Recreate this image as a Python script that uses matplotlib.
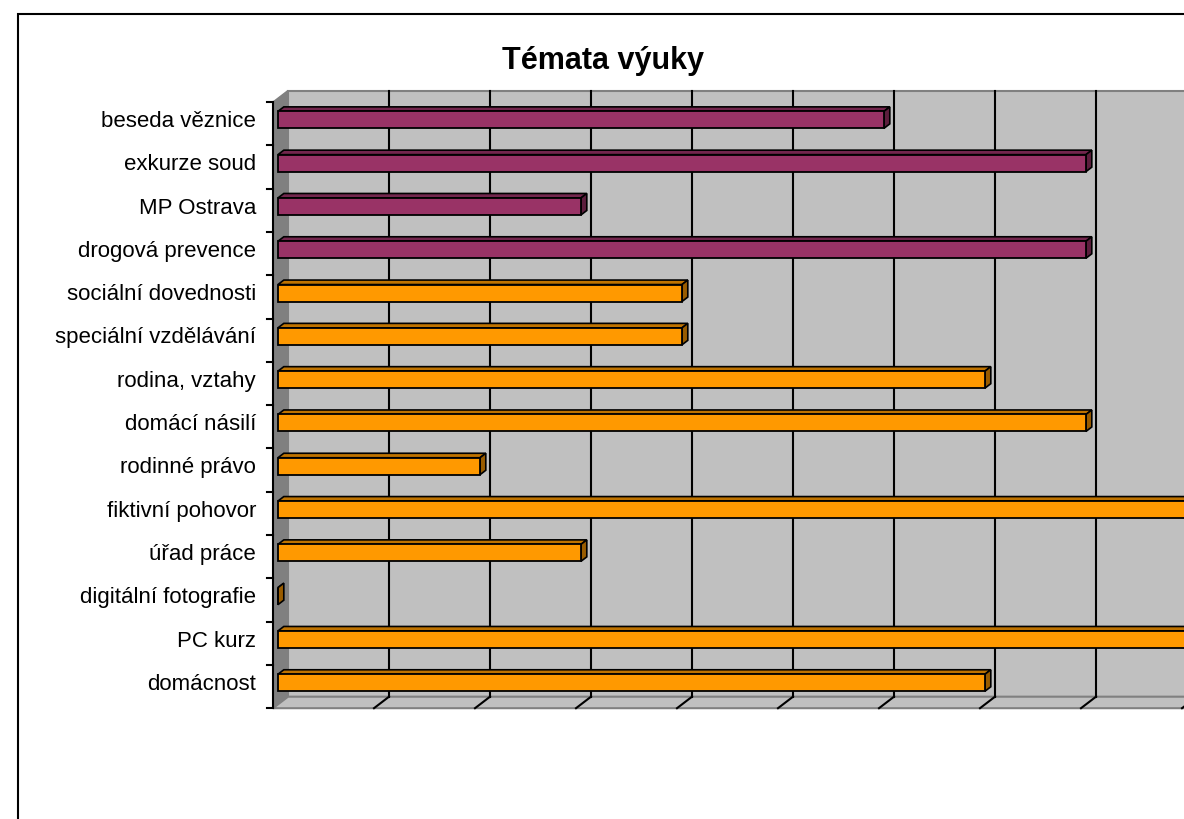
import numpy as np
import matplotlib.pyplot as plt
from matplotlib.patches import Polygon, Rectangle

plt.rcParams['font.family'] = ['Liberation Sans', 'DejaVu Sans']

# data, top row first
categories = ['beseda věznice', 'exkurze soud', 'MP Ostrava', 'drogová prevence',
              'sociální dovednosti', 'speciální vzdělávání', 'rodina, vztahy',
              'domácí násilí', 'rodinné právo', 'fiktivní pohovor', 'úřad práce',
              'digitální fotografie', 'PC kurz', 'domácnost']
values = [6, 8, 3, 8, 4, 4, 7, 8, 2, 9, 3, 0, 9, 7]
groups = ['a', 'a', 'a', 'a', 'b', 'b', 'b', 'b', 'b', 'b', 'b', 'b', 'b', 'b']
title = 'Témata výuky'

face = {'a': '#993366', 'b': '#FF9900'}
top_c = {'a': '#73264d', 'b': '#bf7300'}
side_c = {'a': '#5c1e3d', 'b': '#995c00'}

W, H = 1184, 819
fig = plt.figure(figsize=(W / 100, H / 100), dpi=100)

# pixel geometry of the 3D box
x0_px, unit_px = 273, 101.0
y0_px, row_px = 102, 43.3
ax_l, ax_r, ax_t, ax_b = 200, 1184, 80, 720
ax = fig.add_axes([ax_l / W, 1 - ax_b / H, (ax_r - ax_l) / W, (ax_b - ax_t) / H])
ax.set_xlim((ax_l - x0_px) / unit_px, (ax_r - x0_px) / unit_px)
ax.set_ylim((ax_b - y0_px) / row_px, (ax_t - y0_px) / row_px)
ax.axis('off')

n = len(categories)
xmax = 10
ddx, ddy = 15 / unit_px, -11.5 / row_px   # depth vector
f0, f1 = 0.33, 0.72                        # bar depth band

# walls
ax.add_patch(Rectangle((ddx, ddy), xmax, n, facecolor='#C0C0C0', edgecolor='#808080', lw=1.5, zorder=1))
ax.add_patch(Polygon([(0, 0), (ddx, ddy), (ddx, n + ddy), (0, n)], closed=True,
                     facecolor='#808080', edgecolor='#808080', lw=1, zorder=1))
ax.add_patch(Polygon([(0, n), (ddx, n + ddy), (xmax + ddx, n + ddy), (xmax, n)], closed=True,
                     facecolor='#C0C0C0', edgecolor='#808080', lw=1.5, zorder=1))
for k in range(1, xmax + 1):
    ax.plot([k + ddx, k + ddx], [ddy, n + ddy], color='black', lw=1.5, zorder=2)
    ax.plot([k, k + ddx], [n, n + ddy], color='black', lw=1.5, zorder=2)

# left axis with ticks
ax.plot([0, 0], [0, n], color='black', lw=1.5, zorder=3)
for k in range(n + 1):
    ax.plot([-6 / unit_px, 0], [k, k], color='black', lw=1.5, zorder=3)

# bars
bh = 17 / row_px
yc = np.arange(n) + 0.5 + f0 * ddy
left = f0 * ddx
bdx, bdy = (f1 - f0) * ddx, (f1 - f0) * ddy
cols = [face[g] for g in groups]
ax.barh(yc, values, left=left, height=bh, color=cols, edgecolor='black', lw=1.3, zorder=5)
for y, v, g in zip(yc, values, groups):
    yt, yb = y - bh / 2, y + bh / 2
    xe = left + v
    ax.add_patch(Polygon([(left, yt), (xe, yt), (xe + bdx, yt + bdy), (left + bdx, yt + bdy)],
                         closed=True, facecolor=top_c[g], edgecolor='black', lw=1.2, zorder=4))
    ax.add_patch(Polygon([(xe, yt), (xe + bdx, yt + bdy), (xe + bdx, yb + bdy), (xe, yb)],
                         closed=True, facecolor=side_c[g], edgecolor='black', lw=1.2, zorder=4))

# category labels
for i, c in enumerate(categories):
    ax.text(-17 / unit_px, i + 0.45, c, ha='right', va='center', fontsize=16, color='black')

fig.text(603 / W, 1 - 69 / H, title, ha='center', va='baseline', fontsize=22, fontweight='bold')

# chart border
fig.patches.append(Rectangle((18 / W, -0.1), 1.2, 1 - 14 / H + 0.1, transform=fig.transFigure,
                             fill=False, edgecolor='black', lw=1.5))

fig.savefig('out.png', dpi=100)
